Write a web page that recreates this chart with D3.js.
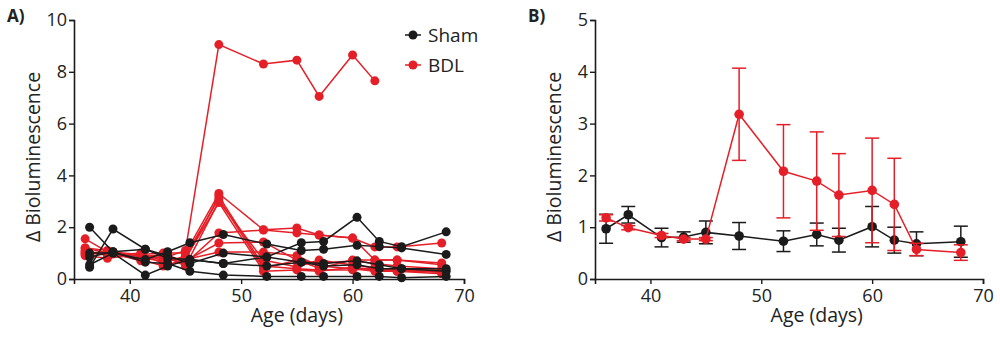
<!DOCTYPE html>
<html>
<head>
<meta charset="utf-8">
<script src="https://cdn.jsdelivr.net/npm/d3@7"></script>
<style>
  body { margin: 0; background: #fff; }
  svg text { font-family: "Open Sans", sans-serif; fill: #222; }
</style>
</head>
<body>
<script>
// ---- data ----
// panel A: individual animals
const shamDays = [36.4, 38.5, 41.4, 43.4, 45.4, 48.4, 52.3, 55.4, 57.4, 60.4, 62.4, 64.4, 68.4];
const shamTraces = [
  [2.0, 1.05, 0.65, 0.6, 0.3, 0.15, 0.1, 0.1, 0.1, 0.1, 0.1, 0.05, 0.1],
  [0.45, 1.93, 1.15, 0.8, 0.75, 0.6, 0.5, 0.65, 0.5, 0.55, 0.4, 0.4, 0.3],
  [0.55, 1.0, 0.75, 1.05, 1.4, 1.72, 1.35, 1.1, 1.15, 1.3, 1.25, 1.2, 0.95],
  [0.85, 1.05, 1.15, 0.9, 0.6, 1.0, 0.85, 1.4, 1.45, 2.38, 1.45, 1.25, 1.82],
  [1.0, 1.0, 0.15, 0.5, 0.75, 0.6, 0.85, 0.65, 0.6, 0.7, 0.55, 0.4, 0.4]
];
const bdlDays = [36, 38, 41, 43, 45, 48, 52, 55, 57, 60, 62, 64, 68];
const bdlTraces = [
  [1.0, 1.0, 0.9, 0.8, 1.1, 9.05, 8.3, 8.45, 7.05, 8.65, 7.65, null, null],
  [1.55, 1.05, 0.95, 1.0, 1.0, 3.3, 1.9, 1.97, 1.7, 1.58, 1.24, 1.24, 1.39],
  [1.2, 1.0, 0.75, 0.5, 0.75, 3.2, 0.5, 0.4, 0.35, 0.35, 0.42, 0.35, 0.25],
  [0.9, 0.8, 0.95, 0.6, 0.9, 3.1, 0.4, 0.73, 0.42, 0.73, 0.73, 0.73, 0.62],
  [1.0, 1.05, 0.7, 0.9, 0.5, 3.0, 0.73, 0.46, 0.73, 0.54, 0.42, 0.35, 0.35],
  [1.1, 0.9, 1.0, 0.7, 0.8, 2.95, 0.3, 0.35, 0.3, 0.45, 0.35, 0.3, 0.3],
  [0.95, 1.0, 0.8, 0.85, 0.6, 1.78, 1.89, 1.78, 1.7, 1.58, 0.73, 0.73, 0.55],
  [1.2, 1.1, 0.85, 0.95, 0.7, 1.39, 1.43, 0.73, 0.6, 0.7, 0.6, 0.5, 0.4],
  [1.05, 0.95, 0.8, 0.7, 0.75, 1.04, 1.04, 0.9, 0.5, 0.4, 0.3, 0.3, 0.2]
];

// panel B: mean +/- sem
const meanDays = [36, 38, 41, 43, 45, 48, 52, 55, 57, 60, 62, 64, 68];
const shamMean = [0.97, 1.24, 0.80, 0.81, 0.90, 0.83, 0.73, 0.86, 0.75, 1.01, 0.75, 0.68, 0.72];
const shamSem  = [0.28, 0.16, 0.18, 0.10, 0.22, 0.26, 0.20, 0.22, 0.23, 0.39, 0.25, 0.23, 0.30];
const bdlMean  = [1.18, 0.99, 0.84, 0.77, 0.77, 3.18, 2.08, 1.89, 1.62, 1.71, 1.44, 0.57, 0.51];
const bdlSem   = [0.06, 0.04, 0.04, 0.03, 0.03, 0.89, 0.90, 0.95, 0.80, 1.01, 0.89, 0.12, 0.15];

const xTicks = [40, 50, 60, 70];
const legendItems = ["Sham", "BDL"];

const RED = "#e51f27";
const BLACK = "#1b1b1b";

const svg = d3.select("body").append("svg")
  .attr("width", 1000)
  .attr("height", 337);

function drawAxes(g, x, y, yTicks, label) {
  const xAxis = g.append("g")
    .attr("transform", `translate(0,${y.range()[0]})`)
    .call(d3.axisBottom(x).tickValues(xTicks).tickSizeOuter(0).tickSize(5));
  const yAxis = g.append("g")
    .attr("transform", `translate(${x.range()[0]},0)`)
    .call(d3.axisLeft(y).tickValues(yTicks).tickFormat(d3.format("d")).tickSizeOuter(0).tickSize(5));
  [xAxis, yAxis].forEach(a => {
    a.attr("font-size", 18).attr("font-family", "'Open Sans', sans-serif");
    a.select(".domain").attr("stroke", BLACK).attr("stroke-width", 1.6);
    a.selectAll(".tick line").attr("stroke", BLACK).attr("stroke-width", 1.4);
    a.selectAll(".tick text").attr("fill", "#222");
  });
  xAxis.selectAll(".tick text").attr("dy", "0.85em");
  yAxis.selectAll(".tick text").attr("x", -7);

  g.append("text")
    .attr("x", (x(40) + x(70)) / 2)
    .attr("y", 322)
    .attr("text-anchor", "middle")
    .attr("font-size", 19.5)
    .text("Age (days)");

  g.append("text")
    .attr("transform", `translate(${x.range()[0] - 34},157) rotate(-90)`)
    .attr("text-anchor", "middle")
    .attr("font-size", 19.5)
    .text("\u0394 Bioluminescence");

  g.append("text")
    .attr("x", x.range()[0] - 67)
    .attr("y", 22)
    .attr("font-size", 17)
    .attr("font-weight", "bold")
    .text(label);
}

// ---- panel A ----
const xA = d3.scaleLinear().domain([35, 70]).range([74, 464]);
const yA = d3.scaleLinear().domain([0, 10]).range([279, 20]);
const gA = svg.append("g");

const lineA = days => d3.line()
  .defined(d => d != null)
  .x((d, i) => xA(days[i]))
  .y(d => yA(d));

function drawTraces(traces, days, color) {
  traces.forEach(t => {
    gA.append("path")
      .datum(t)
      .attr("fill", "none")
      .attr("stroke", color)
      .attr("stroke-width", 1.5)
      .attr("d", lineA(days));
  });
  traces.forEach(t => {
    gA.selectAll(null)
      .data(t.map((v, i) => ({v, d: days[i]})).filter(p => p.v != null))
      .enter().append("circle")
      .attr("cx", p => xA(p.d))
      .attr("cy", p => yA(p.v))
      .attr("r", 4.5)
      .attr("fill", color);
  });
}
drawTraces(bdlTraces, bdlDays, RED);
drawTraces(shamTraces, shamDays, BLACK);
drawAxes(gA, xA, yA, [0, 2, 4, 6, 8, 10], "A)");

// legend
const legend = gA.append("g").attr("transform", "translate(413,35)");
legendItems.forEach((name, i) => {
  const c = i === 0 ? BLACK : RED;
  const row = legend.append("g").attr("transform", `translate(0,${i * 30})`);
  row.append("line").attr("x1", -8).attr("x2", 8).attr("stroke", c).attr("stroke-width", 1.5);
  row.append("circle").attr("r", 4.5).attr("fill", c);
  row.append("text").attr("x", 15).attr("dy", "0.35em").attr("font-size", 19).text(name);
});

// ---- panel B ----
const xB = d3.scaleLinear().domain([35, 70]).range([595, 983]);
const yB = d3.scaleLinear().domain([0, 5]).range([279, 20]);
const gB = svg.append("g");

function drawMean(mean, sem, color) {
  const pts = mean.map((m, i) => ({d: meanDays[i], m, s: sem[i]}));
  const eb = gB.append("g").attr("stroke", color).attr("stroke-width", 1.5);
  pts.forEach(p => {
    eb.append("line").attr("x1", xB(p.d)).attr("x2", xB(p.d))
      .attr("y1", yB(p.m - p.s)).attr("y2", yB(p.m + p.s));
    [p.m - p.s, p.m + p.s].forEach(v => {
      eb.append("line").attr("x1", xB(p.d) - 7).attr("x2", xB(p.d) + 7)
        .attr("y1", yB(v)).attr("y2", yB(v));
    });
  });
  gB.append("path")
    .datum(pts)
    .attr("fill", "none")
    .attr("stroke", color)
    .attr("stroke-width", 1.5)
    .attr("d", d3.line().x(p => xB(p.d)).y(p => yB(p.m)));
  gB.selectAll(null)
    .data(pts)
    .enter().append("circle")
    .attr("cx", p => xB(p.d))
    .attr("cy", p => yB(p.m))
    .attr("r", 4.8)
    .attr("fill", color);
}
drawMean(shamMean, shamSem, BLACK);
drawMean(bdlMean, bdlSem, RED);
drawAxes(gB, xB, yB, [0, 1, 2, 3, 4, 5], "B)");
</script>
</body>
</html>
